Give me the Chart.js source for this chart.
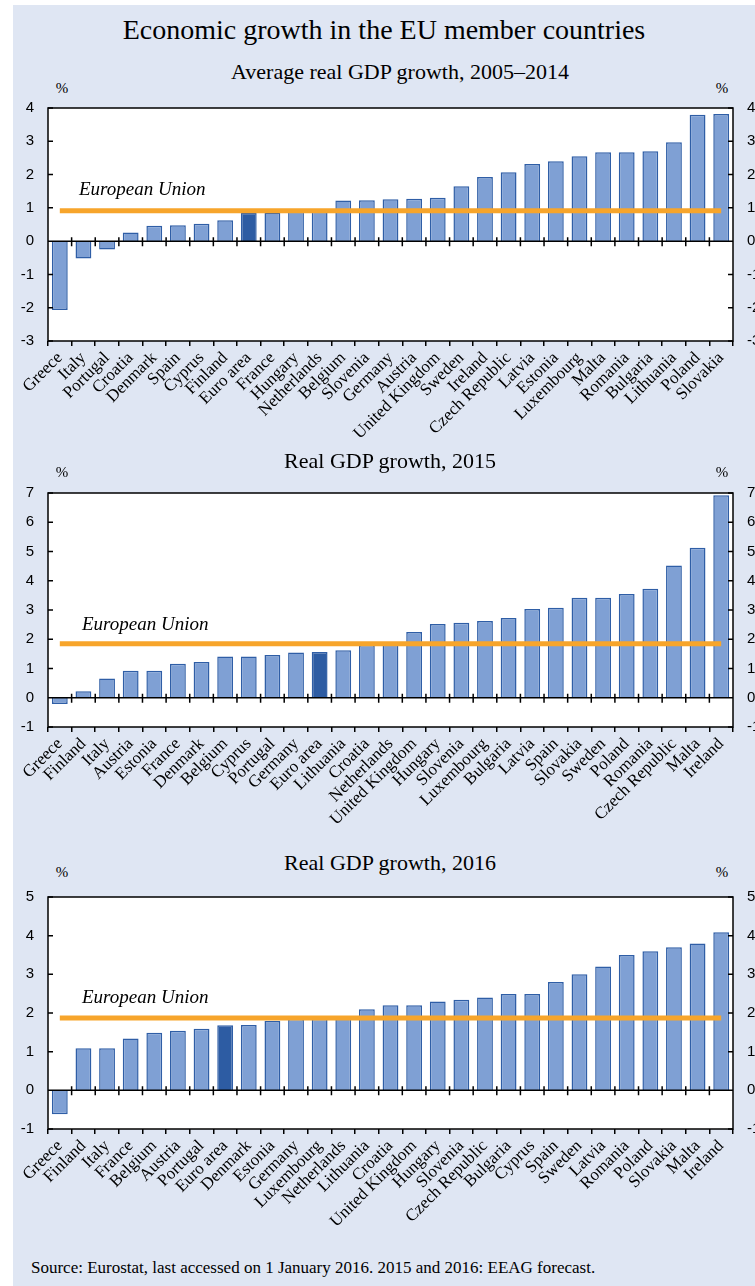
<!DOCTYPE html>
<html>
<head>
<meta charset="utf-8">
<script src="https://cdn.jsdelivr.net/npm/chart.js@4.4.0/dist/chart.umd.min.js"></script>
<style>
html, body { margin: 0; padding: 0; background: #fff; overflow: hidden; }
#page { position: relative; width: 755px; height: 1286px; overflow: hidden; }
#panel { position: absolute; left: 13px; top: 5px; width: 742px; height: 1281px; background: #dfe6f3; }
.t { position: absolute; font-family: "Liberation Serif", "Times New Roman", serif; color: #000;
     line-height: 1; white-space: nowrap; transform: translate(-50%, -50%); }
.l { transform: translate(0, -50%); }
.eu { font-style: italic; font-size: 19px; }
.pct { font-size: 15px; }
.sub { font-size: 22px; }
canvas { position: absolute; left: 0; }
</style>
</head>
<body>
<div id="page">
  <div id="panel"></div>

  <div class="t" style="left:384px; top:30px; font-size:28px;">Economic growth in the EU member countries</div>

  <div class="t sub" style="left:400px; top:72px;">Average real GDP growth, 2005–2014</div>
  <div class="t pct" style="left:62px; top:88px;">%</div>
  <div class="t pct" style="left:722px; top:88px;">%</div>
  <canvas id="c1" width="770" height="365" style="top:85px"></canvas>
  <div class="t l eu" style="left:79px; top:188px;">European Union</div>

  <div class="t sub" style="left:390px; top:461px;">Real GDP growth, 2015</div>
  <div class="t pct" style="left:62px; top:472px;">%</div>
  <div class="t pct" style="left:722px; top:472px;">%</div>
  <canvas id="c2" width="770" height="360" style="top:470px"></canvas>
  <div class="t l eu" style="left:82px; top:623px;">European Union</div>

  <div class="t sub" style="left:390px; top:863px;">Real GDP growth, 2016</div>
  <div class="t pct" style="left:62px; top:872px;">%</div>
  <div class="t pct" style="left:722px; top:872px;">%</div>
  <canvas id="c3" width="770" height="366" style="top:874px"></canvas>
  <div class="t l eu" style="left:82px; top:996px;">European Union</div>

  <div class="t l" style="left:31px; top:1267px; font-size:17px;">Source: Eurostat, last accessed on 1 January 2016. 2015 and 2016: EEAG forecast.</div>
</div>

<script>
// Average 2005-2014
const countries0514 = ['Greece', 'Italy', 'Portugal', 'Croatia', 'Denmark', 'Spain', 'Cyprus', 'Finland',
    'Euro area', 'France', 'Hungary', 'Netherlands', 'Belgium', 'Slovenia', 'Germany', 'Austria',
    'United Kingdom', 'Sweden', 'Ireland', 'Czech Republic', 'Latvia', 'Estonia', 'Luxembourg', 'Malta',
    'Romania', 'Bulgaria', 'Lithuania', 'Poland', 'Slovakia'];
const growth0514 = [-2.07, -0.52, -0.25, 0.26, 0.46, 0.48, 0.52, 0.63,
    0.85, 0.86, 0.89, 0.92, 1.22, 1.23, 1.26, 1.27,
    1.30, 1.65, 1.93, 2.07, 2.32, 2.40, 2.55, 2.67,
    2.67, 2.70, 2.97, 3.80, 3.82];

// 2015
const countries2015 = ['Greece', 'Finland', 'Italy', 'Austria', 'Estonia', 'France', 'Denmark', 'Belgium',
    'Cyprus', 'Portugal', 'Germany', 'Euro area', 'Lithuania', 'Croatia', 'Netherlands', 'United Kingdom',
    'Hungary', 'Slovenia', 'Luxembourg', 'Bulgaria', 'Latvia', 'Spain', 'Slovakia', 'Sweden',
    'Poland', 'Romania', 'Czech Republic', 'Malta', 'Ireland'];
const growth2015 = [-0.21, 0.22, 0.66, 0.92, 0.92, 1.16, 1.22, 1.41,
    1.41, 1.46, 1.55, 1.56, 1.62, 1.80, 1.90, 2.25,
    2.52, 2.56, 2.62, 2.73, 3.03, 3.08, 3.42, 3.42,
    3.55, 3.73, 4.52, 5.13, 6.92];

// 2016
const countries2016 = ['Greece', 'Finland', 'Italy', 'France', 'Belgium', 'Austria', 'Portugal', 'Euro area',
    'Denmark', 'Estonia', 'Germany', 'Luxembourg', 'Netherlands', 'Lithuania', 'Croatia', 'United Kingdom',
    'Hungary', 'Slovenia', 'Czech Republic', 'Bulgaria', 'Cyprus', 'Spain', 'Sweden', 'Latvia',
    'Romania', 'Poland', 'Slovakia', 'Malta', 'Ireland'];
const growth2016 = [-0.62, 1.09, 1.09, 1.34, 1.49, 1.54, 1.59, 1.68,
    1.69, 1.79, 1.85, 1.85, 1.87, 2.10, 2.20, 2.20,
    2.30, 2.34, 2.40, 2.49, 2.49, 2.80, 3.00, 3.20,
    3.50, 3.60, 3.70, 3.80, 4.09];

// European Union growth (horizontal line), per panel
const euGrowth = [0.91, 1.85, 1.87];

// y axis ranges per panel
const yMin = [-3, -1, -1];
const yMax = [4, 7, 5];

const BAR_FILL = '#7fa0d4';
const BAR_EDGE = '#2f5ea6';
const EURO_FILL = '#2d5ca3';
const EU_LINE = '#f7a52b';

// white plot area, black frame, zero line with ticks, inward y ticks
const framePlugin = {
    id: 'frame',
    beforeDraw(chart) {
        const a = chart.chartArea, ctx = chart.ctx;
        ctx.save();
        ctx.fillStyle = '#fff';
        ctx.fillRect(a.left, a.top, a.right - a.left, a.bottom - a.top);
        ctx.restore();
    },
    afterDatasetsDraw(chart) {
        const a = chart.chartArea, ctx = chart.ctx;
        const x = chart.scales.x, y = chart.scales.y;
        const zero = y.getPixelForValue(0);
        ctx.save();
        ctx.strokeStyle = '#000';
        ctx.lineWidth = 1.5;
        ctx.strokeRect(a.left, a.top, a.right - a.left, a.bottom - a.top);
        ctx.beginPath();
        ctx.moveTo(a.left, zero);
        ctx.lineTo(a.right, zero);
        for (let i = 1; i < x.ticks.length; i++) {
            const bx = (x.getPixelForTick(i - 1) + x.getPixelForTick(i)) / 2;
            ctx.moveTo(bx, zero - 4);
            ctx.lineTo(bx, zero + 5);
        }
        y.ticks.forEach(t => {
            const py = y.getPixelForValue(t.value);
            ctx.moveTo(a.left, py);
            ctx.lineTo(a.left + 5, py);
            ctx.moveTo(a.right - 5, py);
            ctx.lineTo(a.right, py);
        });
        ctx.stroke();
        ctx.restore();
    }
};

function makeChart(id, cats, vals, eu, min, max, padTop, xHeight) {
    const ctx = document.getElementById(id).getContext('2d');
    const yTicks = {
        stepSize: 1,
        padding: 14,
        color: '#000',
        font: { family: '"Liberation Sans", Arial, sans-serif', size: 15 }
    };
    return new Chart(ctx, {
        type: 'bar',
        data: {
            labels: cats,
            datasets: [{
                type: 'line',
                data: [{ x: cats[0], y: eu }, { x: cats[cats.length - 1], y: eu }],
                borderColor: EU_LINE,
                borderWidth: 5,
                pointRadius: 0,
                fill: false,
                order: 0
            }, {
                data: vals,
                backgroundColor: cats.map(c => c === 'Euro area' ? EURO_FILL : BAR_FILL),
                borderColor: BAR_EDGE,
                borderWidth: 1.5,
                barPercentage: 0.67,
                categoryPercentage: 1,
                order: 1
            }]
        },
        options: {
            responsive: false,
            animation: false,
            events: [],
            layout: { padding: { top: padTop, left: 0, right: 0, bottom: 0 } },
            plugins: { legend: { display: false }, tooltip: { enabled: false } },
            scales: {
                x: {
                    offset: true,
                    grid: { display: true, drawOnChartArea: false, offset: true, tickLength: 5, color: '#000', lineWidth: 1.5 },
                    border: { display: false },
                    ticks: {
                        autoSkip: false,
                        minRotation: 45,
                        maxRotation: 45,
                        padding: 2,
                        color: '#000',
                        font: { family: '"Liberation Serif", "Times New Roman", serif', size: 17 }
                    },
                    afterFit: s => { s.height = xHeight; }
                },
                y: {
                    position: 'left',
                    min: min, max: max,
                    grid: { display: false, drawTicks: false },
                    border: { display: false },
                    ticks: yTicks,
                    afterFit: s => { s.width = 48; }
                },
                y2: {
                    position: 'right',
                    min: min, max: max,
                    grid: { display: false, drawTicks: false },
                    border: { display: false },
                    ticks: yTicks,
                    afterFit: s => { s.width = 37; }
                }
            }
        },
        plugins: [framePlugin]
    });
}

makeChart('c1', countries0514, growth0514, euGrowth[0], yMin[0], yMax[0], 13, 109);
makeChart('c2', countries2015, growth2015, euGrowth[1], yMin[1], yMax[1], 13, 103);
makeChart('c3', countries2016, growth2016, euGrowth[2], yMin[2], yMax[2], 13, 111);
</script>
</body>
</html>
